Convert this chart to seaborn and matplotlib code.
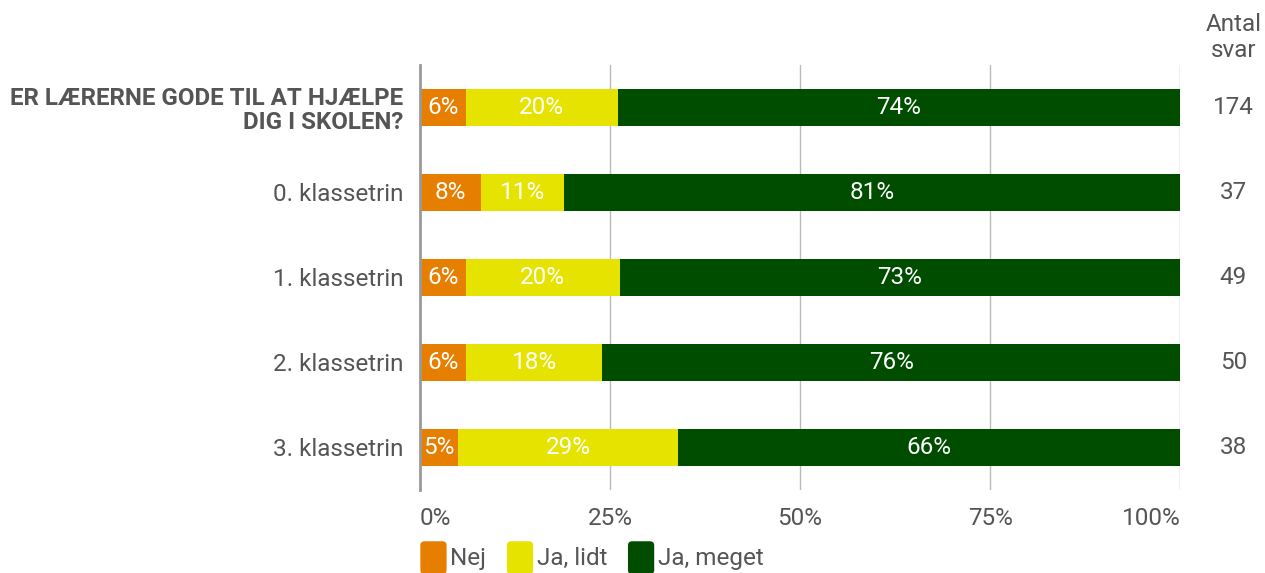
import matplotlib
matplotlib.use("Agg")
import matplotlib.pyplot as plt
from matplotlib.patches import FancyBboxPatch, Patch
from matplotlib.legend_handler import HandlerPatch
import seaborn as sns
import pandas as pd

# data
groups = ["ER LÆRERNE GODE TIL AT HJÆLPE\nDIG I SKOLEN?", "0. klassetrin",
          "1. klassetrin", "2. klassetrin", "3. klassetrin"]
nej = [6, 8, 6, 6, 5]
ja_lidt = [20, 11, 20, 18, 29]
ja_meget = [74, 81, 73, 76, 66]
antal = [174, 37, 49, 50, 38]
series = ["Nej", "Ja, lidt", "Ja, meget"]
colors = ["#E67E00", "#E6E300", "#004D00"]

sns.set_style("white")
plt.rcParams["font.family"] = ["Roboto", "DejaVu Sans"]

df = pd.DataFrame({"group": groups, "Nej": nej, "Ja, lidt": ja_lidt, "Ja, meget": ja_meget})
tot = df[series].sum(axis=1)
# cumulative shares, scaled so each bar fills 100%
df["c1"] = df["Nej"] / tot * 100
df["c2"] = (df["Nej"] + df["Ja, lidt"]) / tot * 100
df["c3"] = 100.0

fig = plt.figure(figsize=(12.65, 5.73), dpi=100)
ax = fig.add_axes([0.332, 0.145, 0.601, 0.742])

ax.set_axisbelow(True)
for x in [25, 50, 75, 100]:
    ax.axvline(x, color="#BBBBBB", lw=1, zorder=0)

for col, c in zip(["c3", "c2", "c1"], colors[::-1]):
    sns.barplot(data=df, x=col, y="group", color=c, width=0.44, saturation=1,
                ax=ax, orient="h", edgecolor="none")

ax.set_xlim(0, 100)
ax.set_ylim(4.5, -0.5)
ax.set_xlabel("")
ax.set_ylabel("")
ax.set_xticks([0, 25, 50, 75, 100])
ax.set_xticklabels(["0%", "25%", "50%", "75%", "100%"])
ax.tick_params(axis="x", length=0, pad=12, labelsize=17.5, labelcolor="#555555")
ax.tick_params(axis="y", length=0, pad=12, labelsize=17.5, labelcolor="#555555")
xt = ax.get_xticklabels()
xt[0].set_ha("left")
xt[-1].set_ha("right")
for lab in ax.get_yticklabels():
    if lab.get_text().startswith("ER"):
        lab.set_fontweight("bold")
        lab.set_fontsize(17.4)
        lab.set_linespacing(1.05)
for s in ["top", "right", "bottom"]:
    ax.spines[s].set_visible(False)
ax.spines["left"].set_color("#999999")
ax.spines["left"].set_linewidth(2)

# value labels
starts = [[0] * 5, list(df["c1"]), list(df["c2"])]
ends = [list(df["c1"]), list(df["c2"]), list(df["c3"])]
vals = [nej, ja_lidt, ja_meget]
for k in range(3):
    for i in range(5):
        ax.text((starts[k][i] + ends[k][i]) / 2, i, f"{vals[k][i]}%", ha="center",
                va="center", color="white", fontsize=17.5)

# counts column
for i, n in enumerate(antal):
    ax.text(107, i, str(n), ha="center", va="center", color="#555555", fontsize=17.5,
            clip_on=False)
ax.text(107, -0.82, "Antal\nsvar", ha="center", va="center", color="#555555",
        fontsize=17.5, clip_on=False, linespacing=1.15)


class RoundHandler(HandlerPatch):
    def create_artists(self, legend, orig_handle, xdescent, ydescent, width, height,
                       fontsize, trans):
        p = FancyBboxPatch((-xdescent, -ydescent - 5), width, height + 8,
                           boxstyle="round,pad=0,rounding_size=3",
                           facecolor=orig_handle.get_facecolor(), edgecolor="none",
                           transform=trans)
        return [p]


handles = [Patch(facecolor=c, edgecolor="none", label=s) for s, c in zip(series, colors)]
fig.legend(handles=handles, loc="center left", bbox_to_anchor=(0.315, 0.027), ncol=3,
           frameon=False, handlelength=1.08, handleheight=1.0, handletextpad=0.15,
           columnspacing=0.85, labelcolor="#555555", fontsize=17.5,
           handler_map={Patch: RoundHandler()})

fig.savefig("out.png", dpi=100)
